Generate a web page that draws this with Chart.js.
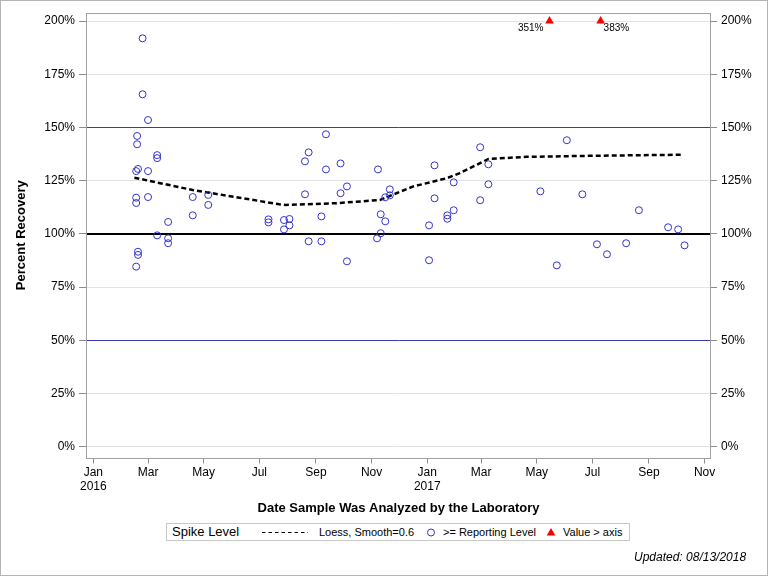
<!DOCTYPE html>
<html>
<head>
<meta charset="utf-8">
<script src="https://cdn.jsdelivr.net/npm/chart.js@4.4.1/dist/chart.umd.min.js"></script>
<style>
html,body{margin:0;padding:0;background:#fff;}
#wrap{position:relative;width:768px;height:576px;overflow:hidden;font-family:'Liberation Sans',Arial,sans-serif;color:#000;}
#c{position:absolute;left:0;top:0;}
#frame{position:absolute;left:0;top:0;width:766px;height:574px;border:1px solid #b4b4b4;pointer-events:none;}
#legend{position:absolute;left:166px;top:523px;width:462px;height:16px;border:1px solid #c8c8c8;background:#fff;}
#legend .it{position:absolute;top:0;height:16px;line-height:16px;white-space:nowrap;font-size:11px;}
#legend svg{position:absolute;top:0;}
#updated{position:absolute;left:634px;top:549px;height:16px;line-height:16px;font-size:12px;font-style:italic;white-space:nowrap;}
</style>
</head>
<body>
<div id="wrap">
  <canvas id="c" width="768" height="576"></canvas>
  <div id="legend">
    <span class="it" style="left:5px;font-size:13px;">Spike Level</span>
    <svg style="left:95px" width="46" height="16"><line x1="0" y1="8.5" x2="46" y2="8.5" stroke="#000" stroke-width="1" stroke-dasharray="3.5,3"/></svg>
    <span class="it" style="left:152px;">Loess, Smooth=0.6</span>
    <svg style="left:259px" width="10" height="16"><circle cx="5" cy="8.5" r="3.5" fill="none" stroke="#3333CC" stroke-width="1"/></svg>
    <span class="it" style="left:276px;">&gt;= Reporting Level</span>
    <svg style="left:379px" width="10" height="16"><polygon points="5,4 9.3,11.5 0.7,11.5" fill="#FF0000"/></svg>
    <span class="it" style="left:396px;">Value &gt; axis</span>
  </div>
  <div id="updated">Updated: 08/13/2018</div>
  <div id="frame"></div>
</div>
<script>
// ---------------- data ----------------
const baseDate = '2016-01-01';

const spikeDates = [
  '2016-02-17','2016-02-17','2016-02-17','2016-02-17','2016-02-18','2016-02-18','2016-02-19','2016-02-19','2016-02-19',
  '2016-02-24','2016-02-24','2016-03-01','2016-03-01','2016-03-01',
  '2016-03-11','2016-03-11','2016-03-11','2016-03-23','2016-03-23','2016-03-23',
  '2016-04-19','2016-04-19','2016-05-06','2016-05-06',
  '2016-07-11','2016-07-11','2016-07-28','2016-07-28','2016-08-03','2016-08-03',
  '2016-08-20','2016-08-20','2016-08-24','2016-08-24','2016-09-07','2016-09-07',
  '2016-09-12','2016-09-12','2016-09-28','2016-09-28','2016-10-05','2016-10-05',
  '2016-11-07','2016-11-08','2016-11-11','2016-11-11','2016-11-16','2016-11-16','2016-11-21','2016-11-21',
  '2017-01-03','2017-01-03','2017-01-09','2017-01-09','2017-01-23','2017-01-23','2017-01-30','2017-01-30',
  '2017-02-28','2017-02-28','2017-03-09','2017-03-09',
  '2017-05-05','2017-05-23','2017-06-03','2017-06-20','2017-07-06','2017-07-17',
  '2017-08-07','2017-08-21','2017-09-22','2017-10-03','2017-10-10'
];
const spikeValues = [
  84.6, 117.0, 114.5, 129.5, 146.0, 142.1, 130.5, 91.6, 90.1,
  191.9, 165.6, 153.5, 129.5, 117.3,
  137.0, 135.6, 99.3, 105.6, 97.9, 95.6,
  117.3, 108.7, 118.3, 113.6,
  106.8, 105.4, 106.5, 102.1, 107.0, 104.0,
  134.1, 118.6, 138.3, 96.5, 108.2, 96.5,
  146.8, 130.3, 133.1, 119.1, 122.3, 87.1,
  97.9, 130.3, 109.2, 100.3, 105.9, 117.2, 120.9, 118.1,
  104.0, 87.6, 132.2, 116.7, 108.7, 107.1, 111.1, 124.2,
  140.7, 115.8, 132.7, 123.3,
  120.0, 85.2, 144.0, 118.6, 95.1, 90.4,
  95.6, 111.1, 103.1, 102.1, 94.6
];

// values above the axis maximum
const overDates  = ['2017-05-15','2017-07-10'];
const overValues = [351, 383];

// loess fit (smooth = 0.6)
const loessDates  = ['2016-02-15','2016-04-19','2016-06-09','2016-07-23','2016-07-30','2016-09-23','2016-11-10',
                     '2016-12-16','2017-01-22','2017-02-05','2017-03-09','2017-04-20','2017-07-02','2017-10-09'];
const loessValues = [126.4, 120.6, 117.0, 113.9, 113.6, 114.4, 115.9,
                     122.2, 126.1, 128.4, 135.2, 136.2, 136.7, 137.2];

// axes
const monthTickDates  = ['2016-01-01','2016-03-01','2016-05-01','2016-07-01','2016-09-01','2016-11-01',
                         '2017-01-01','2017-03-01','2017-05-01','2017-07-01','2017-09-01','2017-11-01'];
const monthTickLabels = [['Jan','2016'],'Mar','May','Jul','Sep','Nov',['Jan','2017'],'Mar','May','Jul','Sep','Nov'];
const yTickValues = [0,25,50,75,100,125,150,175,200];
const refLineValues = [50, 100, 150];
const axisMaxValue = 200;

// ---------------- helpers ----------------
const dayOf = s => (Date.parse(s) - Date.parse(baseDate)) / 86400000;
const xMin = dayOf('2015-12-24');
const xMax = dayOf('2017-11-08');
const yMin = -5.1, yMax = 203.8;

const spikePts = spikeDates.map((d,i)=>({x:dayOf(d), y:spikeValues[i]}));
const overPts  = overDates.map((d,i)=>({x:dayOf(d), y:Math.min(overValues[i], axisMaxValue), v:overValues[i]}));
const loessPts = loessDates.map((d,i)=>({x:dayOf(d), y:loessValues[i]}));

Chart.defaults.font.family = "'Liberation Sans', Arial, sans-serif";
Chart.defaults.color = '#000';

const tickGray = '#8c8c8c';
const frameGray = '#a0a0a0';

const decorPlugin = {
  id:'decor',
  beforeDatasetsDraw(chart){
    const {ctx, chartArea:a, scales:{y}} = chart;
    ctx.save();
    refLineValues.forEach(v=>{
      const py = y.getPixelForValue(v);
      ctx.beginPath();
      if (v === 100){ ctx.strokeStyle = '#000'; ctx.lineWidth = 2; }
      else { ctx.strokeStyle = '#3b3bb0'; ctx.lineWidth = 1; }
      const yy = v === 100 ? Math.round(py) : Math.round(py)+0.5;
      ctx.moveTo(a.left, yy); ctx.lineTo(a.right, yy); ctx.stroke();
    });
    ctx.strokeStyle = frameGray; ctx.lineWidth = 1;
    ctx.strokeRect(Math.round(a.left)+0.5, Math.round(a.top)+0.5, Math.round(a.right-a.left)-1, Math.round(a.bottom-a.top));
    ctx.restore();
  },
  afterDatasetsDraw(chart){
    const {ctx} = chart;
    const meta = chart.getDatasetMeta(2);
    ctx.save();
    ctx.font = "10px 'Liberation Sans', Arial, sans-serif";
    ctx.fillStyle = '#000';
    ctx.textBaseline = 'middle';
    meta.data.forEach((el,i)=>{
      const label = overPts[i].v + '%';
      if (i === 0){ ctx.textAlign = 'right'; ctx.fillText(label, el.x - 6, el.y + 7.5); }
      else { ctx.textAlign = 'left'; ctx.fillText(label, el.x + 3, el.y + 7.5); }
    });
    ctx.restore();
  }
};

new Chart(document.getElementById('c'), {
  type:'scatter',
  data:{
    datasets:[
      {
        label:'>= Reporting Level', data:spikePts, order:1,
        pointStyle:'circle', pointRadius:3.5, pointHoverRadius:3.5,
        borderColor:'#3333CC', backgroundColor:'rgba(0,0,0,0)', pointBorderWidth:1, showLine:false
      },
      {
        label:'Loess, Smooth=0.6', type:'line', data:loessPts, order:2,
        borderColor:'#000', borderWidth:2.5, borderDash:[5,3], pointRadius:0, fill:false, tension:0
      },
      {
        label:'Value > axis', data:overPts, order:0,
        pointStyle:'triangle', pointRadius:5, pointHoverRadius:5,
        borderColor:'#FF0000', backgroundColor:'#FF0000', pointBorderWidth:0, showLine:false
      }
    ]
  },
  options:{
    responsive:false, animation:false, devicePixelRatio:1,
    layout:{padding:{top:13,left:0,right:0,bottom:0}},
    plugins:{legend:{display:false}, tooltip:{enabled:false}},
    events:[],
    scales:{
      x:{
        type:'linear', position:'bottom', min:xMin, max:xMax,
        afterBuildTicks(s){ s.ticks = monthTickDates.map(d=>({value:dayOf(d)})); },
        afterFit(s){ s.height = 576 - 457.5; },
        ticks:{ callback:(v,i)=>monthTickLabels[i], autoSkip:false, maxRotation:0, minRotation:0, padding:2,
                font:{size:12}, color:'#000' },
        grid:{ drawOnChartArea:false, drawTicks:true, tickLength:6, tickColor:tickGray },
        border:{ display:false },
        title:{ display:true, text:'Date Sample Was Analyzed by the Laboratory', color:'#000',
                font:{size:13, weight:'bold'}, padding:{top:0, bottom:60} }
      },
      y:{
        type:'linear', position:'left', min:yMin, max:yMax,
        afterBuildTicks(s){ s.ticks = yTickValues.map(v=>({value:v})); },
        afterFit(s){ s.width = 86; },
        ticks:{ callback:v=>v+'%', padding:4, font:{size:12}, color:'#000' },
        grid:{ color:'#e3e3e3', tickColor:tickGray, tickLength:7, drawTicks:true },
        border:{ display:false },
        title:{ display:true, text:'Percent Recovery', color:'#000', font:{size:13, weight:'bold'}, padding:{top:14,bottom:0} }
      },
      y2:{
        type:'linear', position:'right', min:yMin, max:yMax,
        afterBuildTicks(s){ s.ticks = yTickValues.map(v=>({value:v})); },
        afterFit(s){ s.width = 768 - 711; },
        ticks:{ callback:v=>v+'%', padding:4, font:{size:12}, color:'#000' },
        grid:{ drawOnChartArea:false, tickColor:tickGray, tickLength:6, drawTicks:true },
        border:{ display:false }
      }
    }
  },
  plugins:[decorPlugin]
});
</script>
</body>
</html>
